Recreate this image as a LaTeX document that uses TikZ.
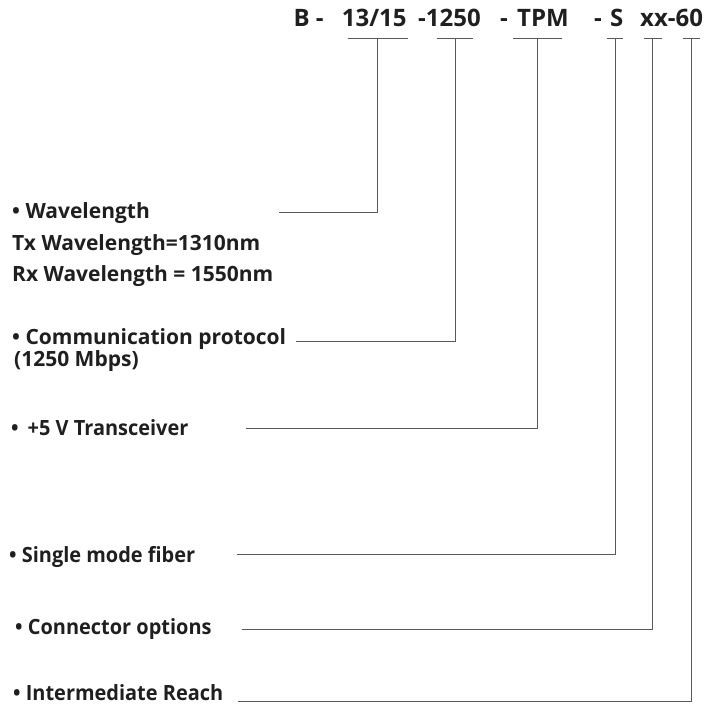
\documentclass[tikz,border=0pt]{standalone}
\usepackage{fontspec}
\setmainfont{Open Sans}
\newfontfamily\narrowfont{Open Sans}[FakeStretch=0.95]
\usetikzlibrary{positioning}

\newcommand{\codefont}{\fontsize{24}{28}\selectfont\bfseries}
\newcommand{\itemfont}{\fontsize{21}{25}\selectfont\bfseries}

\begin{document}
\begin{tikzpicture}[
    x=1pt, y=-1pt,
    code/.style={anchor=base west, inner sep=0pt, text=black!88, font=\codefont},
    item/.style={anchor=base west, inner sep=0pt, text=black!88, font=\itemfont},
    narrow/.style={item, font=\narrowfont\itemfont},
    lead/.style={draw=black!65, line width=0.9pt}
]
\useasboundingbox (0,0) rectangle (706,707);

% part number
\node[code] (codeB) at (293.3,26.7) {B -};
\node[code] (codeWl) at (341.7,26.7) {13/15};
\node[code] (codeRate) at (418,26.7) {-1250};
\node[code] (codeTPM) at (500,26.7) {-\hspace{3pt} TPM};
\node[code] (codeS) at (594,26.7) {-\hspace{2pt} S};
\node[code] (codeXX) at (640,26.7) {xx-60};

% underlines, with their mid points
\foreach \a/\b/\name in {347.7/407.7/tWl, 436.7/473.3/tRate, 513.3/561.7/tTPM,
                         606.7/623.3/tS, 644/661.7/tXX, 683.3/700/tReach} {
    \draw[lead] (\a,38.3) -- (\b,38.3);
    \coordinate (\name) at ({(\a+\b)/2},38.3);
}

% descriptions
\node[item] (wl) at (12,218.3) {• Wavelength};
\node[item] (wlTx) at (12,250) {Tx Wavelength=1310nm};
\node[item] (wlRx) at (12,281.7) {Rx Wavelength = 1550nm};
\node[item] (proto) at (12,344) {• Communication protocol};
\node[item] (protoRate) at (14,366) {(1250 Mbps)};
\node[narrow] (volt) at (11,435.7) {•\hspace{9pt}+5 V Transceiver};
\node[narrow] (fiber) at (9,562) {• Single mode fiber};
\node[narrow] (conn) at (15,634) {• Connector options};
\node[narrow] (reach) at (13,700.7) {• Intermediate Reach};

% leader lines
\coordinate (wlEnd) at (279,212.3);
\coordinate (protoEnd) at (296,341.7);
\coordinate (voltEnd) at (246,428.3);
\coordinate (fiberEnd) at (236.7,554);
\coordinate (connEnd) at (241.7,629);
\coordinate (reachEnd) at (238,701);

\draw[lead] (wlEnd) -| (tWl);
\draw[lead] (protoEnd) -| (tRate);
\draw[lead] (voltEnd) -| (tTPM);
\draw[lead] (fiberEnd) -| (tS);
\draw[lead] (connEnd) -| (tXX);
\draw[lead] (reachEnd) -| (tReach);

\end{tikzpicture}
\end{document}
